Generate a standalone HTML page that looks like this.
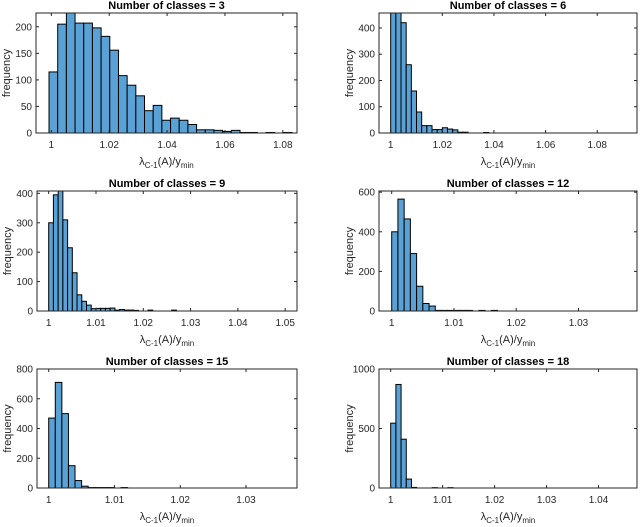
<!DOCTYPE html>
<html><head><meta charset="utf-8"><style>
body{margin:0;background:#fff;width:640px;height:527px;overflow:hidden}
svg{display:block}
text{font-family:"Liberation Sans",sans-serif;fill:#262626}
</style></head><body>
<svg id="fig" width="640" height="527"></svg>
<script>
// ---- data ----
const classCounts = [3, 6, 9, 12, 15, 18];
const counts3 = [115,205,226,207,207,198,182,156,108,90,70,42,52,24,28,24,16,6,6,5,3,5,1,1,0,1,0,1];
const counts6 = [457,457,420,260,160,80,28,28,13,13,20,15,12,3,3,0,0,0,2];
const counts9 = [300,395,410,310,215,130,55,33,20,8,9,9,9,10,3,5,3,3,2,0,0,3,0,0,0,0,3];
const counts12 = [400,565,465,290,125,38,25,3,3,3,3,3,3,0,3,0,3];
const counts15 = [470,710,500,150,50,12,3,3,3,3,0,3];
const counts18 = [545,870,410,75,5,0,0,0,3,0,0,3];
const binStarts = [0.9992, 1.0, 1.0, 1.0, 1.0, 1.0];
const binWidths = [0.003, 0.002, 0.001, 0.001, 0.001, 0.001];
const xTicks = [[1,1.02,1.04,1.06,1.08],[1,1.02,1.04,1.06,1.08],[1,1.01,1.02,1.03,1.04,1.05],[1,1.01,1.02,1.03],[1,1.01,1.02,1.03],[1,1.01,1.02,1.03,1.04]];
const xTickLabels = [["1","1.02","1.04","1.06","1.08"],["1","1.02","1.04","1.06","1.08"],["1","1.01","1.02","1.03","1.04","1.05"],["1","1.01","1.02","1.03"],["1","1.01","1.02","1.03"],["1","1.01","1.02","1.03","1.04"]];
const yTicks = [[0,50,100,150,200],[0,100,200,300,400],[0,100,200,300,400],[0,200,400,600],[0,200,400,600,800],[0,500,1000]];
const xLims = [[0.9947,1.0849],[0.99547,1.0954],[0.99753,1.0525],[0.99796,1.0394],[0.99822,1.03775],[0.99775,1.0474]];
const yLims = [[0,226],[0,457],[0,408],[0,606],[0,800],[0,1000]];
const allCounts = [counts3,counts6,counts9,counts12,counts15,counts18];
// ---- layout ----
const boxes = [[36,13,297,133],[379,13,637,133],[37,191,297,311],[379,191,637,311],[37,369,297,488],[379,369,637,488]];
const NS="http://www.w3.org/2000/svg";
const svg=document.getElementById('fig');
function mk(tag,attrs,parent){const e=document.createElementNS(NS,tag);for(const k in attrs)e.setAttribute(k,attrs[k]);(parent||svg).appendChild(e);return e;}
boxes.forEach((b,i)=>{
  const [L,T,R,B]=b;
  const g=mk('g',{});
  
  
  const xs=v=>L+(v-xLims[i][0])/(xLims[i][1]-xLims[i][0])*(R-L);
  const ys=v=>B-(Math.min(v,yLims[i][1])-yLims[i][0])/(yLims[i][1]-yLims[i][0])*(B-T);
  mk('rect',{x:L,y:T,width:R-L,height:B-T,fill:'#fff'},g);
  allCounts[i].forEach((c,k)=>{
    if(c<=0)return;
    const x0=xs(binStarts[i]+k*binWidths[i]),x1=xs(binStarts[i]+(k+1)*binWidths[i]);
    const r=mk('rect',{x:x0,y:ys(c),width:x1-x0,height:B-ys(c),fill:'#5AA2D6',stroke:'#000','stroke-width':1},g);
    
    
  });
  mk('rect',{x:L,y:T,width:R-L,height:B-T,fill:'none',stroke:'#262626','stroke-width':1},g);
  xTicks[i].forEach((t,k)=>{
    const x=xs(t);
    mk('line',{x1:x,x2:x,y1:B,y2:B-3,stroke:'#262626'},g);
    mk('line',{x1:x,x2:x,y1:T,y2:T+3,stroke:'#262626'},g);
    const tx=mk('text',{x:x,y:B+15,'font-size':10,'text-anchor':'middle'},g);
    tx.textContent=xTickLabels[i][k];
    
    
  });
  yTicks[i].forEach(t=>{
    const y=ys(t);
    mk('line',{x1:L,x2:L+3,y1:y,y2:y,stroke:'#262626'},g);
    mk('line',{x1:R,x2:R-3,y1:y,y2:y,stroke:'#262626'},g);
    const tx=mk('text',{x:L-4,y:y+3.5,'font-size':10,'text-anchor':'end'},g);
    tx.textContent=String(t);
    
    
  });
  const title=mk('text',{x:(L+R)/2,y:T-4,'font-size':11,'font-weight':'bold','text-anchor':'middle',style:'fill:#000'},g);
  title.textContent='Number of classes = '+classCounts[i];
  
  
  const yl=mk('text',{x:0,y:0,'font-size':11,'text-anchor':'middle',transform:`translate(${L-26},${(T+B)/2}) rotate(-90)`},g);
  yl.textContent='frequency';
  
  
  const xl=mk('text',{x:(L+R)/2,y:B+32,'font-size':11,'text-anchor':'middle'},g);
  
  
  xl.innerHTML='λ<tspan font-size="8" dy="3">C-1</tspan><tspan dy="-3">(A)/y</tspan><tspan font-size="8" dy="3">min</tspan>';
});
</script>
</body></html>
